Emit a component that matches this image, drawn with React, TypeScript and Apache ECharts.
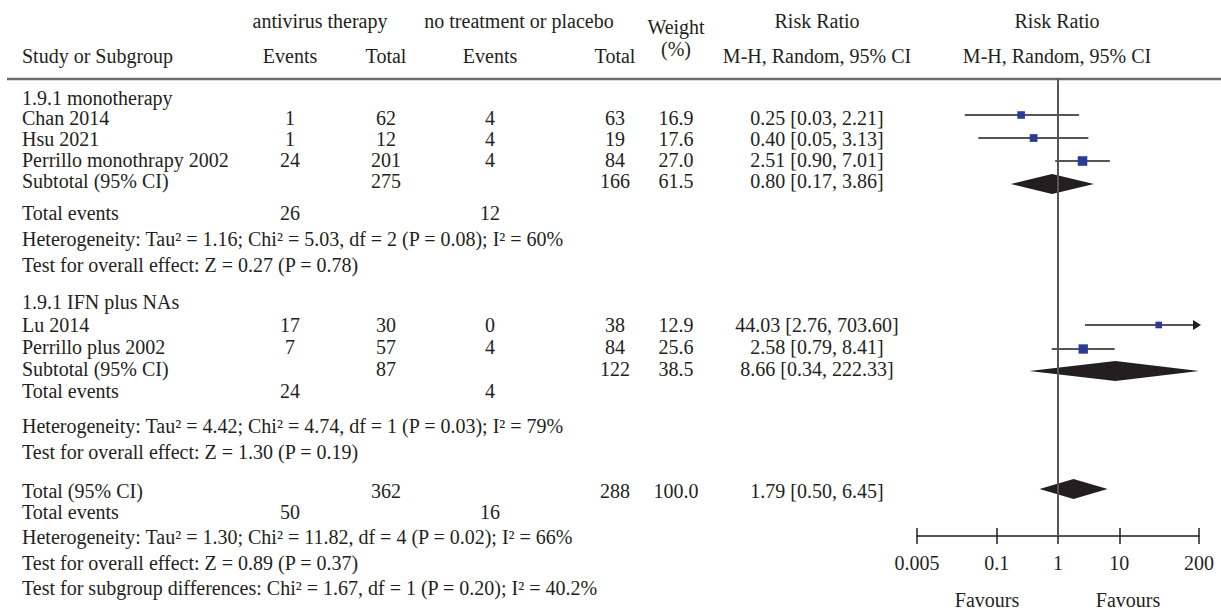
import React, { useEffect, useRef } from 'react';
import * as echarts from 'echarts';

// ---------- data ----------
const studyNames = ['Chan 2014', 'Hsu 2021', 'Perrillo monothrapy 2002', 'Lu 2014', 'Perrillo plus 2002'];
const studyGroup = [0, 0, 0, 1, 1];
const expEvents = [1, 1, 24, 17, 7];
const expTotal = [62, 12, 201, 30, 57];
const ctlEvents = [4, 4, 4, 0, 4];
const ctlTotal = [63, 19, 84, 38, 84];
const studyWeight = [16.9, 17.6, 27.0, 12.9, 25.6];
const studyRR = [0.25, 0.40, 2.51, 44.03, 2.58];
const studyLo = [0.03, 0.05, 0.90, 2.76, 0.79];
const studyHi = [2.21, 3.13, 7.01, 703.60, 8.41];

const groupNames = ['1.9.1 monotherapy', '1.9.1 IFN plus NAs'];
const groupExpTotal = [275, 87];
const groupCtlTotal = [166, 122];
const groupWeight = [61.5, 38.5];
const groupRR = [0.80, 8.66];
const groupLo = [0.17, 0.34];
const groupHi = [3.86, 222.33];
const groupExpEvents = [26, 24];
const groupCtlEvents = [12, 4];
const groupHet = [
  'Heterogeneity: Tau² = 1.16; Chi² = 5.03, df = 2 (P = 0.08); I² = 60%',
  'Heterogeneity: Tau² = 4.42; Chi² = 4.74, df = 1 (P = 0.03); I² = 79%',
];
const groupTest = ['Test for overall effect: Z = 0.27 (P = 0.78)', 'Test for overall effect: Z = 1.30 (P = 0.19)'];

const totalExpTotal = 362;
const totalCtlTotal = 288;
const totalWeight = 100.0;
const totalRR = 1.79;
const totalLo = 0.50;
const totalHi = 6.45;
const totalExpEvents = 50;
const totalCtlEvents = 16;
const totalHet = 'Heterogeneity: Tau² = 1.30; Chi² = 11.82, df = 4 (P = 0.02); I² = 66%';
const totalTest = 'Test for overall effect: Z = 0.89 (P = 0.37)';
const subgroupTest = 'Test for subgroup differences: Chi² = 1.67, df = 1 (P = 0.20); I² = 40.2%';

const tickValues = [0.005, 0.1, 1, 10, 200];
const tickLabels = ['0.005', '0.1', '1', '10', '200'];
const favourLabels = ['Favours', 'Favours'];

// ---------- layout ----------
const X_MIN = 0.005;
const X_MAX = 200;
const FONT = '"Liberation Serif", "Times New Roman", serif';
const TEXT = '#231f20';
const FS = 20;
const COL = { name: 22, expEv: 290, expTot: 386, ctlEv: 490, ctlTot: 615, weight: 676, rr: 817, plot: 1057 };
// mark rows (plot)
const studyRowY = [115, 138, 161, 325, 349];
const groupRowY = [184, 371];
const totalRowY = 489;
// text rows (table)
const studyTextY = [118, 139, 160, 325, 347];
const groupTextY = [181, 369];
const totalTextY = 491;
const groupHeaderY = [98, 302];
const groupEventsY = [213, 391];
const groupHetY = [239, 426];
const groupTestY = [265, 452];
const totalEventsY = 512;
const totalHetY = 537;
const totalTestY = 563;
const subgroupY = 588;
const GRID = { left: 917, top: 79, width: 282, height: 457 };

function txt(x: number, y: number, text: string, align = 'center'): any {
  return {
    type: 'text',
    x,
    y,
    silent: true,
    style: {
      text,
      fontSize: FS,
      fontFamily: FONT,
      fill: TEXT,
      align,
      verticalAlign: 'middle',
      textAlign: align,
      textVerticalAlign: 'middle',
    },
  };
}

function buildGraphics(): any[] {
  const g: any[] = [];
  // headers
  g.push(txt(320, 21, 'antivirus therapy'));
  g.push(txt(519, 21, 'no treatment or placebo'));
  g.push(txt(COL.weight, 27, 'Weight'));
  g.push(txt(COL.rr, 21, 'Risk Ratio'));
  g.push(txt(COL.plot, 21, 'Risk Ratio'));
  g.push(txt(COL.name, 56, 'Study or Subgroup', 'left'));
  g.push(txt(COL.expEv, 56, 'Events'));
  g.push(txt(COL.expTot, 56, 'Total'));
  g.push(txt(COL.ctlEv, 56, 'Events'));
  g.push(txt(COL.ctlTot, 56, 'Total'));
  g.push(txt(COL.weight, 49, '(%)'));
  g.push(txt(COL.rr, 56, 'M-H, Random, 95% CI'));
  g.push(txt(COL.plot, 56, 'M-H, Random, 95% CI'));
  g.push({
    type: 'line',
    silent: true,
    shape: { x1: 7, y1: 79, x2: 1221, y2: 79 },
    style: { stroke: '#6b6b6b', lineWidth: 2.5 },
  });

  // groups
  for (let gi = 0; gi < groupNames.length; gi++) {
    g.push(txt(COL.name, groupHeaderY[gi], groupNames[gi], 'left'));
    for (let i = 0; i < studyNames.length; i++) {
      if (studyGroup[i] !== gi) continue;
      const y = studyTextY[i];
      g.push(txt(COL.name, y, studyNames[i], 'left'));
      g.push(txt(COL.expEv, y, String(expEvents[i])));
      g.push(txt(COL.expTot, y, String(expTotal[i])));
      g.push(txt(COL.ctlEv, y, String(ctlEvents[i])));
      g.push(txt(COL.ctlTot, y, String(ctlTotal[i])));
      g.push(txt(COL.weight, y, studyWeight[i].toFixed(1)));
      g.push(txt(COL.rr, y, `${studyRR[i].toFixed(2)} [${studyLo[i].toFixed(2)}, ${studyHi[i].toFixed(2)}]`));
    }
    const sy = groupTextY[gi];
    g.push(txt(COL.name, sy, 'Subtotal (95% CI)', 'left'));
    g.push(txt(COL.expTot, sy, String(groupExpTotal[gi])));
    g.push(txt(COL.ctlTot, sy, String(groupCtlTotal[gi])));
    g.push(txt(COL.weight, sy, groupWeight[gi].toFixed(1)));
    g.push(txt(COL.rr, sy, `${groupRR[gi].toFixed(2)} [${groupLo[gi].toFixed(2)}, ${groupHi[gi].toFixed(2)}]`));
    g.push(txt(COL.name, groupEventsY[gi], 'Total events', 'left'));
    g.push(txt(COL.expEv, groupEventsY[gi], String(groupExpEvents[gi])));
    g.push(txt(COL.ctlEv, groupEventsY[gi], String(groupCtlEvents[gi])));
    g.push(txt(COL.name, groupHetY[gi], groupHet[gi], 'left'));
    g.push(txt(COL.name, groupTestY[gi], groupTest[gi], 'left'));
  }

  // overall
  const ty = totalTextY;
  g.push(txt(COL.name, ty, 'Total (95% CI)', 'left'));
  g.push(txt(COL.expTot, ty, String(totalExpTotal)));
  g.push(txt(COL.ctlTot, ty, String(totalCtlTotal)));
  g.push(txt(COL.weight, ty, totalWeight.toFixed(1)));
  g.push(txt(COL.rr, ty, `${totalRR.toFixed(2)} [${totalLo.toFixed(2)}, ${totalHi.toFixed(2)}]`));
  g.push(txt(COL.name, totalEventsY, 'Total events', 'left'));
  g.push(txt(COL.expEv, totalEventsY, String(totalExpEvents)));
  g.push(txt(COL.ctlEv, totalEventsY, String(totalCtlEvents)));
  g.push(txt(COL.name, totalHetY, totalHet, 'left'));
  g.push(txt(COL.name, totalTestY, totalTest, 'left'));
  g.push(txt(COL.name, subgroupY, subgroupTest, 'left'));

  g.push(txt(987, 600, favourLabels[0]));
  g.push(txt(1128, 600, favourLabels[1]));
  return g;
}

function buildData(): any[] {
  const d: any[] = [];
  for (let i = 0; i < studyNames.length; i++) {
    d.push([studyRR[i], studyRowY[i], studyLo[i], studyHi[i], studyWeight[i], 0]);
  }
  for (let gi = 0; gi < groupNames.length; gi++) {
    d.push([groupRR[gi], groupRowY[gi], groupLo[gi], groupHi[gi], groupWeight[gi], 1]);
  }
  d.push([totalRR, totalRowY, totalLo, totalHi, totalWeight, 1]);
  return d;
}

function renderItem(_params: any, api: any): any {
  const est = api.value(0);
  const y = api.value(1);
  const lo = api.value(2);
  const hi = api.value(3);
  const w = api.value(4);
  const kind = api.value(5);
  const pLo = api.coord([Math.max(lo, X_MIN), y]);
  const pHi = api.coord([Math.min(hi, X_MAX), y]);
  const pE = api.coord([est, y]);
  if (kind === 1) {
    const h = 10;
    return {
      type: 'polygon',
      shape: { points: [[pLo[0], pE[1]], [pE[0], pE[1] - h], [pHi[0], pE[1]], [pE[0], pE[1] + h]] },
      style: { fill: '#231f20' },
    };
  }
  const s = 1.85 * Math.sqrt(w);
  const children: any[] = [];
  const endX = hi > X_MAX ? pHi[0] - 5 : pHi[0];
  children.push({
    type: 'line',
    shape: { x1: pLo[0], y1: pE[1], x2: endX, y2: pE[1] },
    style: { stroke: '#555555', lineWidth: 1.8 },
  });
  children.push({
    type: 'rect',
    shape: { x: pE[0] - s / 2, y: pE[1] - s / 2, width: s, height: s },
    style: { fill: '#2a3c98' },
  });
  if (hi > X_MAX) {
    children.push({
      type: 'polygon',
      shape: { points: [[pHi[0] + 2, pE[1]], [pHi[0] - 6, pE[1] - 5], [pHi[0] - 6, pE[1] + 5]] },
      style: { fill: '#231f20' },
    });
  }
  return { type: 'group', children };
}

function labelFor(v: number): string {
  let best = 0;
  let bd = Infinity;
  for (let i = 0; i < tickValues.length; i++) {
    const dd = Math.abs(Math.log10(v) - Math.log10(tickValues[i]));
    if (dd < bd) {
      bd = dd;
      best = i;
    }
  }
  return tickLabels[best];
}

export default function App() {
  const ref = useRef<HTMLDivElement>(null);
  useEffect(() => {
    if (!ref.current) return;
    document.body.style.margin = '0';
    const chart = echarts.init(ref.current, null, { renderer: 'svg' });
    const axisBase: any = {
      type: 'log',
      logBase: 10,
      min: X_MIN,
      max: X_MAX,
      position: 'bottom',
      splitLine: { show: false },
    };
    chart.setOption({
      animation: false,
      backgroundColor: '#ffffff',
      grid: { left: GRID.left, top: GRID.top, width: GRID.width, height: GRID.height, containLabel: false },
      xAxis: [
        {
          ...axisBase,
          axisLine: { show: true, lineStyle: { color: '#231f20', width: 1.5 } },
          axisTick: { show: true, inside: false, length: 8, customValues: tickValues, lineStyle: { color: '#231f20', width: 1.5 } },
          axisLabel: {
            show: true,
            customValues: tickValues,
            formatter: (v: number) => labelFor(v),
            fontSize: FS,
            fontFamily: FONT,
            color: TEXT,
            margin: 17,
          },
        },
        {
          ...axisBase,
          axisLine: { show: false },
          axisTick: { show: true, inside: true, length: 8, customValues: tickValues, lineStyle: { color: '#231f20', width: 1.5 } },
          axisLabel: { show: false },
        },
      ],
      yAxis: { type: 'value', min: GRID.top, max: GRID.top + GRID.height, inverse: true, show: false },
      graphic: buildGraphics(),
      series: [
        {
          type: 'custom',
          xAxisIndex: 0,
          clip: false,
          renderItem,
          data: buildData(),
          markLine: {
            silent: true,
            symbol: 'none',
            label: { show: false },
            lineStyle: { color: '#555555', width: 2, type: 'solid' },
            data: [{ xAxis: 1 }],
          },
        },
      ],
    });
    return () => chart.dispose();
  }, []);
  return <div ref={ref} style={{ position: 'absolute', left: 0, top: 0, width: 1221, height: 612 }} />;
}
